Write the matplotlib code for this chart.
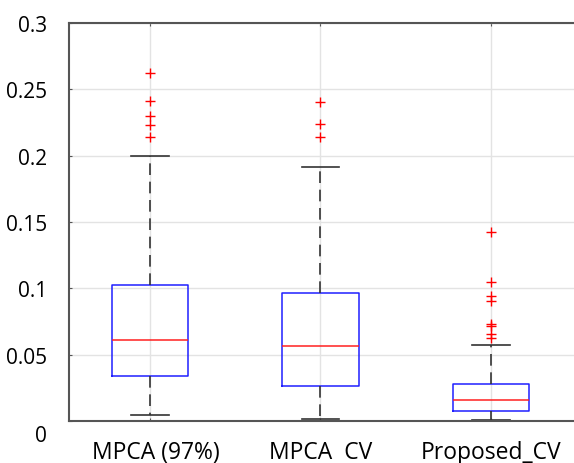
import matplotlib.pyplot as plt
import matplotlib.transforms as mtransforms

labels = ["MPCA (97%)", "MPCA  CV", "Proposed_CV"]
q1 = [0.0342, 0.0264, 0.0079]
med = [0.0613, 0.0568, 0.0158]
q3 = [0.1023, 0.0965, 0.0279]
whislo = [0.0045, 0.0015, 0.0008]
whishi = [0.1997, 0.1915, 0.0572]
fliers = [
    [0.262, 0.241, 0.2297, 0.2234, 0.214],
    [0.2402, 0.2236, 0.2143],
    [0.1422, 0.1048, 0.0945, 0.0902, 0.0729, 0.0719, 0.0658, 0.0628],
]

stats = []
for i in range(3):
    stats.append(dict(label=labels[i], q1=q1[i], med=med[i], q3=q3[i],
                      whislo=whislo[i], whishi=whishi[i], fliers=fliers[i]))

plt.rcParams['font.family'] = ['Open Sans', 'DejaVu Sans']

fig = plt.figure(figsize=(5.74, 4.64), dpi=100)
ax = fig.add_axes([69 / 574, 42 / 464, 511 / 574, 398 / 464])

ax.bxp(stats, positions=[1, 2, 3], widths=0.45,
       boxprops=dict(color="#1f1fff", linewidth=1.1),
       medianprops=dict(color="#ff2020", linewidth=1.1),
       whiskerprops=dict(color="#333333", linewidth=1.2, linestyle=(0, (7, 4))),
       capprops=dict(color="#333333", linewidth=1.2),
       flierprops=dict(marker="+", markeredgecolor="red", markersize=7,
                       markeredgewidth=1.0, linestyle="none"),
       capwidths=0.22)

ax.set_xlim(0.525, 3.522)
ax.set_ylim(0, 0.3)
ax.set_yticks([0, 0.05, 0.1, 0.15, 0.2, 0.25, 0.3])
ax.set_yticklabels(["0", "0.05", "0.1", "0.15", "0.2", "0.25", "0.3"])
ax.grid(True, color="#e3e3e3", linewidth=1.0)
ax.set_axisbelow(True)
ax.tick_params(axis="both", direction="in", length=2, color="#555555", top=True)
ax.tick_params(axis="y", pad=16, labelsize=15)
ax.tick_params(axis="x", pad=14, labelsize=16.5)
for s in ax.spines.values():
    s.set_color("#555555")
    s.set_linewidth(1.5)

# small label offsets seen in the original
zero = ax.get_yticklabels()[0]
zero.set_transform(zero.get_transform() +
                   mtransforms.ScaledTranslation(0, -12 / 100, fig.dpi_scale_trans))
first = ax.get_xticklabels()[0]
first.set_transform(first.get_transform() +
                    mtransforms.ScaledTranslation(6 / 100, 0, fig.dpi_scale_trans))

fig.savefig("out.png", dpi=100)
